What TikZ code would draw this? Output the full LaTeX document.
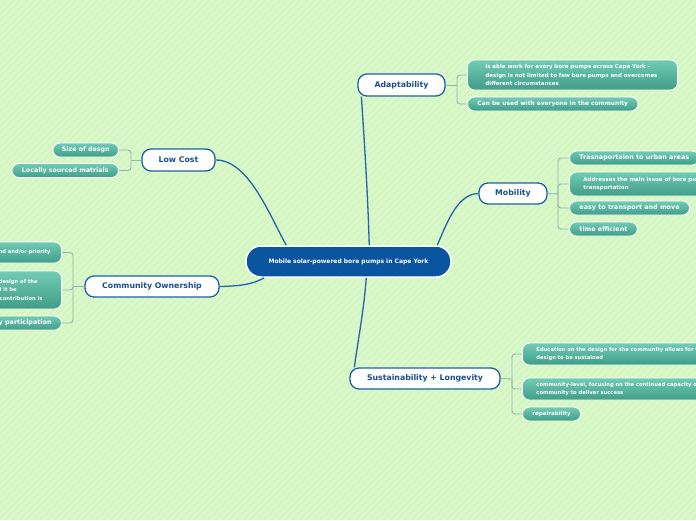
\documentclass[tikz,border=0pt]{standalone}
\usepackage{fontspec}
\setmainfont{DejaVu Sans}
\definecolor{topicblue}{HTML}{1F5EA8}
\definecolor{topictext}{HTML}{1A4E8C}
\definecolor{centralblue}{HTML}{0B55A0}
\definecolor{linkblue}{HTML}{2563AC}
\definecolor{branchgray}{HTML}{8FB6B4}
\definecolor{tealtop}{HTML}{72CBB5}
\definecolor{tealbot}{HTML}{3F9D88}
\definecolor{bgcol}{HTML}{D9F8C7}
\definecolor{stripecol}{HTML}{D0F0BE}
\tikzset{
  maintopic/.style={draw=topicblue, line width=1.3pt, fill=white, rounded corners=9pt,
    minimum height=22pt, text=topictext, font=\bfseries\fontsize{7.8}{9}\selectfont, inner sep=0pt},
  centraltopic/.style={draw=white, line width=1.5pt, fill=centralblue, rounded corners=15pt,
    text=white, font=\bfseries\fontsize{6}{7}\selectfont, minimum width=205pt, minimum height=31pt, inner sep=0pt},
  sub/.style={draw=white, line width=0.9pt, top color=tealtop, bottom color=tealbot,
    rounded corners=7pt, text=white, inner ysep=0pt, minimum height=14pt},
  subbig/.style={sub, font=\bfseries\fontsize{6.4}{8}\selectfont},
  subsmall/.style={sub, font=\bfseries\fontsize{5.5}{8.5}\selectfont},
  subtiny/.style={sub, font=\bfseries\fontsize{5.2}{8.5}\selectfont},
  branch/.style={draw=branchgray, line width=0.9pt, rounded corners=3pt},
  link/.style={draw=linkblue, line width=1.3pt},
}
\begin{document}
\begin{tikzpicture}[x=1pt,y=-1pt]
\useasboundingbox (0,0) rectangle (696,520);
\begin{scope}
\clip (0,0) rectangle (696,520);
\fill[bgcol] (0,0) rectangle (696,520);
\foreach \k in {-520,-513,...,700} {
  \draw[stripecol, line width=0.6pt] (\k,520) -- (\k+520,0);
}
\end{scope}

% main nodes
\node[centraltopic] (central) at (348.5,261.5) {Mobile solar-powered bore pumps in Cape York};
\node[maintopic, minimum width=87pt] (adapt) at (401.5,85) {Adaptability};
\node[maintopic, minimum width=73pt] (lowcost) at (178.5,160) {Low Cost};
\node[maintopic, minimum width=134pt, minimum height=21pt] (commown) at (152,286.5) {Community Ownership};
\node[maintopic, minimum width=68pt, minimum height=21pt] (mobility) at (513,193.5) {Mobility};
\node[maintopic, minimum width=150pt, minimum height=21pt] (sustain) at (425,378.5) {Sustainability + Longevity};

% links
\draw[link] (lowcost.east) .. controls (248,160) and (268,212) .. ([xshift=41pt]central.north west);
\draw[link] ([xshift=4pt]adapt.south west) .. controls (365,150) and (368,200) .. ([xshift=124pt]central.north west);
\draw[link] (mobility.west) .. controls (458,194) and (448,220) .. ([xshift=192pt]central.north west);
\draw[link] (commown.east) .. controls (245,286) and (255,283) .. ([xshift=19pt]central.south west);
\draw[link] ([xshift=121pt]central.south west) .. controls (364,310) and (358,340) .. ([xshift=5pt]sustain.north west);

% Adaptability children
\node[subsmall, anchor=west, inner xsep=18pt, text width=174pt, align=left, minimum height=30pt] (a1) at (467,75)
  {is able work for every bore pumps across Cape York -\\design is not limited to few bore pumps and overcomes\\different circumstances};
\node[sub, font=\bfseries\fontsize{5.9}{7}\selectfont, anchor=west, inner xsep=10pt] (a2) at (467,104) {Can be used with everyone in the community};
\coordinate (ja) at (457,85);
\draw[branch] (adapt.east) -- (ja);
\draw[branch] (ja) |- (a1.west);
\draw[branch] (ja) |- (a2.west);

% Mobility children
\node[subbig, anchor=west, inner xsep=10pt] (m1) at (569,158) {Trasnaportaion to urban areas};
\node[subsmall, anchor=west, inner xsep=14pt, text width=230pt, align=left, minimum height=24pt] (m2) at (569,184)
  {Addresses the main issue of bore pumps\\transportation};
\node[subbig, anchor=west, inner xsep=10pt] (m3) at (569,208) {easy to transport and move};
\node[subbig, anchor=west, inner xsep=10pt] (m4) at (569,229) {time efficient};
\coordinate (jm) at (558,194);
\draw[branch] (mobility.east) -- (jm);
\foreach \c in {m1,m2,m3,m4} \draw[branch] (jm) |- (\c.west);

% Sustainability children
\node[subtiny, anchor=west, inner xsep=14pt, text width=230pt, align=left, minimum height=22pt] (s1) at (522,354)
  {Education on the design for the community allows for the\\design to be sustained};
\node[subtiny, anchor=west, inner xsep=14pt, text width=230pt, align=left, minimum height=22pt] (s2) at (522,389)
  {community-level, focusing on the continued capacity of the\\community to deliver success};
\node[subsmall, anchor=west, inner xsep=10pt] (s3) at (522,414) {repairability};
\coordinate (js) at (512,379);
\draw[branch] (sustain.east) -- (js);
\foreach \c in {s1,s2,s3} \draw[branch] (js) |- (\c.west);

% Low Cost children
\node[subbig, font=\bfseries\fontsize{6.3}{8}\selectfont, anchor=east, inner xsep=9pt] (l1) at (119,150) {Size of desgn};
\node[subbig, font=\bfseries\fontsize{6.3}{8}\selectfont, anchor=east, inner xsep=10pt] (l2) at (119,170.5) {Locally sourced matrials};
\coordinate (jl) at (131,160);
\draw[branch] (lowcost.west) -- (jl);
\foreach \c in {l1,l2} \draw[branch] (jl) |- (\c.east);

% Community Ownership children
\node[subtiny, anchor=east, inner xsep=11pt, minimum height=21pt] (c1) at (62,252.5) {Community demand and/or priority};
\node[subtiny, anchor=east, inner xsep=19pt, minimum height=38pt] (c2) at (62,290)
  {\begin{tabular}{@{}r@{}}Community involvement in the design of the\hspace*{5pt}\\
   pump so that they will it be\hspace*{26pt}\\
   maintained and local contribution is\end{tabular}};
\node[subbig, anchor=east, inner xsep=10pt] (c3) at (62,323) {Community participation};
\coordinate (jc) at (73,286.5);
\draw[branch] (commown.west) -- (jc);
\foreach \c in {c1,c2,c3} \draw[branch] (jc) |- (\c.east);
\end{tikzpicture}
\end{document}
